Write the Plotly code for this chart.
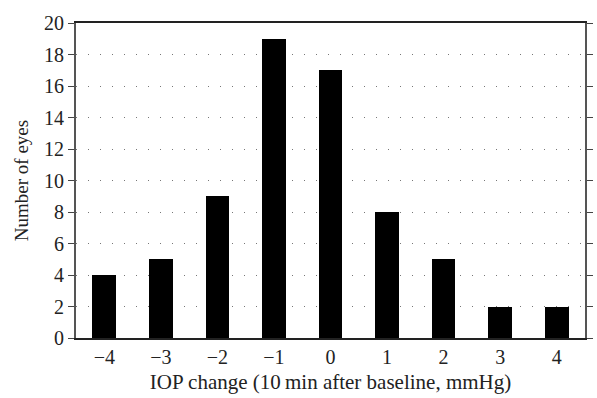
import plotly.graph_objects as go

iop_change = [-4, -3, -2, -1, 0, 1, 2, 3, 4]
tick_labels = ["−4", "−3", "−2", "−1", "0", "1", "2", "3", "4"]
num_eyes = [4, 5, 9, 19, 17, 8, 5, 2, 2]
y_ticks = [0, 2, 4, 6, 8, 10, 12, 14, 16, 18, 20]

font_family = "Liberation Serif"

fig = go.Figure(go.Bar(
    x=iop_change, y=num_eyes, width=0.42,
    marker=dict(color="black", line=dict(width=0)),
))

fig.update_layout(
    width=597, height=398,
    margin=dict(l=76, r=4, t=23, b=60),
    plot_bgcolor="white", paper_bgcolor="white",
    showlegend=False,
    font=dict(family=font_family, size=20, color="#222"),
    bargap=0,
)
fig.update_xaxes(
    range=[-4.5, 4.5],
    tickvals=iop_change, ticktext=tick_labels,
    tickfont=dict(size=20),
    showgrid=False, zeroline=False,
    showline=True, linecolor="#222", linewidth=1.5, mirror=True,
    ticks="", ticklen=0,
    title=dict(text="IOP change (10\u2009min after baseline, mmHg)", font=dict(size=21), standoff=8),
)
fig.update_yaxes(
    range=[0, 20],
    tickvals=y_ticks,
    tickfont=dict(size=20),
    showgrid=True, gridcolor="#777", gridwidth=1, griddash="1px,11px",
    zeroline=False,
    showline=True, linecolor="#555", linewidth=2, mirror="ticks",
    ticks="outside", ticklen=6, tickcolor="#444", tickwidth=1,
    title=dict(text="Number of eyes", font=dict(size=19), standoff=10),
)

fig.write_html("out.html", config={"responsive": False, "displayModeBar": False},
               post_script="document.body.style.margin='0';")
